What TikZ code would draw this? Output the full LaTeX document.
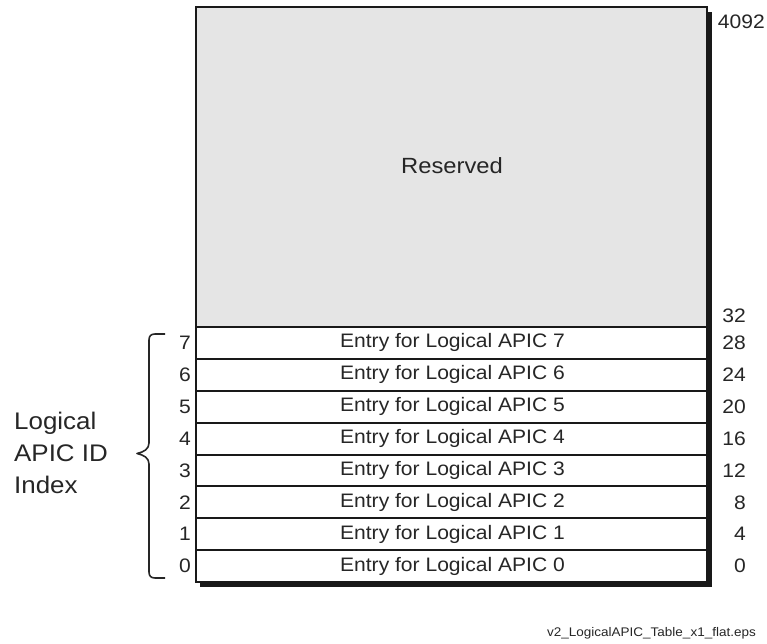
\documentclass[tikz,border=0pt]{standalone}
\usepackage{fontspec}
\setmainfont{Liberation Sans}[FakeStretch=1.08]
\begin{document}
\begin{tikzpicture}[x=1pt,y=-1pt,
  entrytext/.style={font=\fontsize{19.5}{23}\selectfont, text=black!85},
  idxtext/.style={font=\fontsize{19.5}{23}\selectfont, text=black!85, anchor=east, inner sep=0pt},
  offtext/.style={font=\fontsize{19.5}{23}\selectfont, text=black!85, anchor=east, inner sep=0pt},
  rowline/.style={line width=2pt, draw=black!90},
]
\useasboundingbox (0,0) rectangle (767,644);
% shadow
\fill[black!90] (200,12) rectangle (712,587);
% reserved area
\fill[black!10] (196,7) rectangle (707,327);
\fill[white] (196,327) rectangle (707,582);
\node[entrytext, font=\fontsize{22}{26}\selectfont] (res) at (452,166) {Reserved};
% rows
\foreach \i in {0,...,7} {
  \pgfmathsetmacro{\yc}{582-31.875*(\i+0.5)}
  \pgfmathsetmacro{\yt}{582-31.875*(\i+1)}
  \pgfmathtruncatemacro{\off}{4*\i}
  \draw[rowline] (196,\yt) -- (707,\yt);
  \node[entrytext] (e\i) at (452.5,\yc) {Entry for Logical APIC \i};
  \node[idxtext] (i\i) at (191,\yc) {\i};
  \node[offtext] (o\i) at (746,\yc) {\off};
}
\draw[line width=2.6pt, draw=black!90] (196,7) rectangle (707,582);
\node[offtext] (o32) at (746,316) {32};
\node[offtext] (o4092) at (765,22) {4092};
% brace
\draw[line width=1.6pt, black!85, line join=round]
  (165,334) -- (155,334) .. controls (151,334) and (149,336) .. (149,340)
  -- (149,443) .. controls (149,449) and (144,452) .. (137,453.5)
  .. controls (144,455) and (149,458) .. (149,464)
  -- (149,572) .. controls (149,576) and (151,578) .. (155,578) -- (165,578);
\node[font=\fontsize{24}{32}\selectfont, text=black!85, align=left, anchor=west, inner sep=0pt] (lbl) at (14,453) {Logical\\APIC ID\\Index};
\node[font=\fontsize{12.5}{15}\selectfont, text=black!85, anchor=east, inner sep=0pt] (fn) at (756,633) {v2\_LogicalAPIC\_Table\_x1\_flat.eps};
\end{tikzpicture}
\end{document}
